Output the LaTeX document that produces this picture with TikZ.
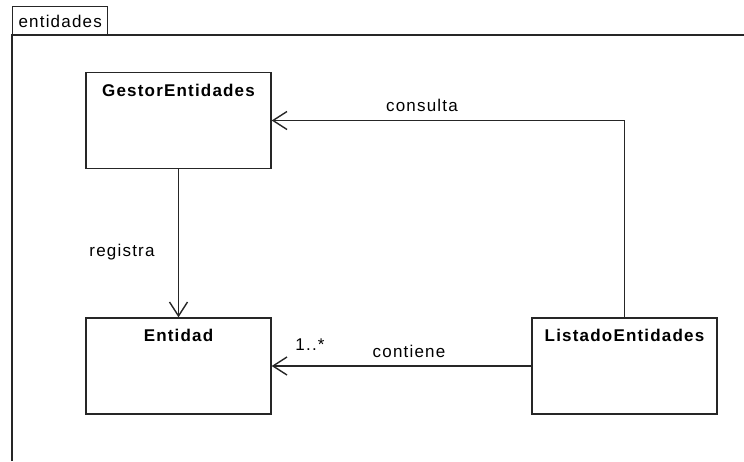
\documentclass[tikz,border=0pt]{standalone}
\usepackage{fontspec}
\setmainfont{Liberation Sans}[LetterSpace=7]
\usetikzlibrary{arrows.meta}
\begin{document}
\begin{tikzpicture}[x=1pt,y=-1pt,
  line/.style={draw=black!85, line width=1.4pt},
  cls/.style={line, rectangle, fill=white, minimum width=185pt, minimum height=96pt, inner sep=0pt},
  clsname/.style={font=\fontsize{17}{19}\selectfont\bfseries, inner sep=0pt, anchor=center},
  lbl/.style={font=\fontsize{17}{19}\selectfont, inner sep=0pt, anchor=center},
  assoc/.style={line, -{Straight Barb[length=14pt,width=18pt,line width=1.4pt]}}
]
\useasboundingbox (0,0) rectangle (744,461);
% package frame
\node[line, rectangle, minimum width=95pt, minimum height=29pt, inner sep=0pt, anchor=north west] (tab) at (12,6) {};
\node[lbl] (tabtxt) at (tab.center) {entidades};
\draw[line] (12,461) -- (12,35) -- (744,35);
% classes
\node[cls] (g) at (178.5,120.5) {};
\node[clsname] (gt) at (178.5,90) {GestorEntidades};
\node[cls] (e) at (178.5,366) {};
\node[clsname] (et) at (178.5,335) {Entidad};
\node[cls] (l) at (624.5,366) {};
\node[clsname] (lt) at (624.5,335) {ListadoEntidades};
% associations
\draw[assoc] (g.south) -- (e.north);
\draw[assoc] (l.north) |- (g.east);
\draw[assoc] (l.west) -- (e.east);
% labels
\node[lbl] (reg) at (122,252) {registra};
\node[lbl] (con) at (422,105) {consulta};
\node[lbl] (cont) at (409,351) {contiene};
\node[lbl] (mult) at (310,345) {1..*};
\end{tikzpicture}
\end{document}
